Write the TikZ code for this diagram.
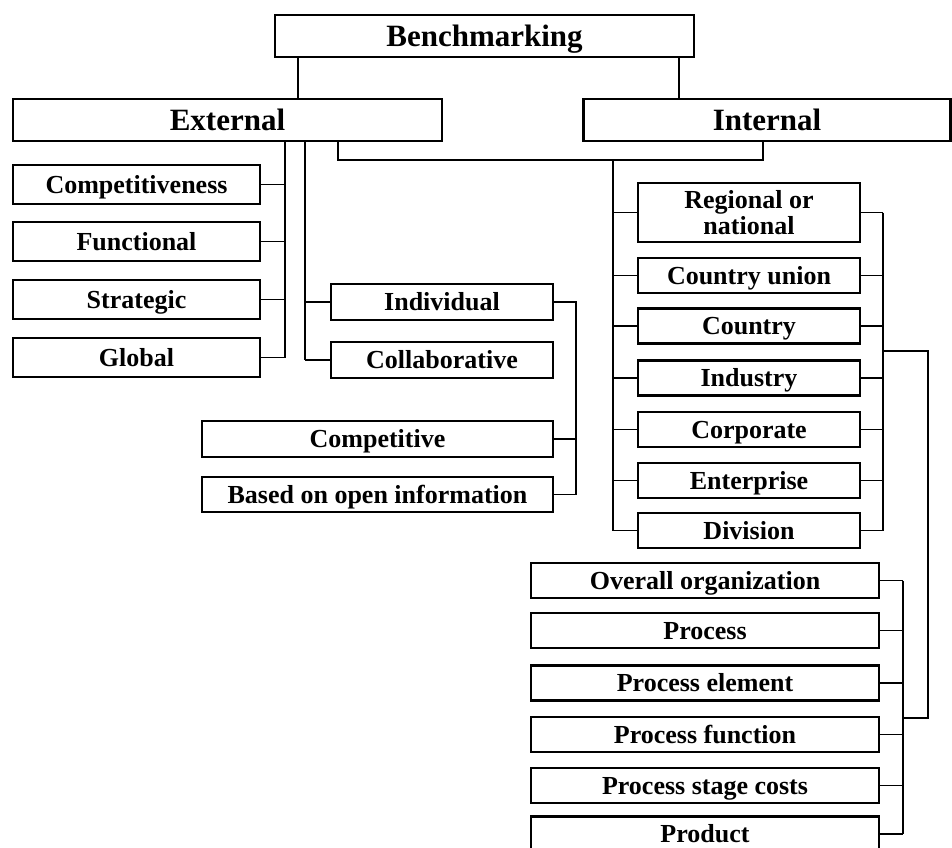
\documentclass[tikz,border=0pt]{standalone}
\usepackage{fontspec}
\setmainfont{Liberation Serif}
\tikzset{
  plainbox/.style={draw, line width=2.2pt, inner sep=0pt, align=center, font=\bfseries\fontsize{26}{26}\selectfont},
  box/.style={plainbox, text height=20pt, text depth=3pt},
  headbox/.style={plainbox, minimum height=42pt, text height=23pt, text depth=3pt, font=\bfseries\fontsize{31}{31}\selectfont},
  link/.style={line width=1.6pt},
}
\begin{document}
\begin{tikzpicture}[x=1pt,y=-1pt]
  \useasboundingbox (0,0) rectangle (952,847);

  % Top level
  \node[headbox, minimum width=419pt] (bench) at (484.5,36) {Benchmarking};
  \node[headbox, minimum width=429pt] (ext) at (227.5,120) {External};
  \node[headbox, minimum width=367pt] (int) at (767,120) {Internal};

  % External branch
  \node[box, minimum width=247pt, minimum height=39pt] (comp) at (136.5,184.5) {Competitiveness};
  \node[box, minimum width=247pt, minimum height=39pt] (func) at (136.5,241.5) {Functional};
  \node[box, minimum width=247pt, minimum height=39pt] (strat) at (136.5,299.5) {Strategic};
  \node[box, minimum width=247pt, minimum height=39pt] (glob) at (136.5,357.5) {Global};
  \node[box, minimum width=222pt, minimum height=36pt] (indiv) at (442,302) {Individual};
  \node[box, minimum width=222pt, minimum height=36pt] (collab) at (442,360) {Collaborative};
  \node[box, minimum width=351pt, minimum height=36pt] (compet) at (377.5,439) {Competitive};
  \node[box, minimum width=351pt, minimum height=35pt] (open) at (377.5,494.5) {Based on open information};

  % Internal branch
  \node[plainbox, minimum width=222pt, minimum height=59pt] (region) at (749,212.5) {Regional or\\national};
  \node[box, minimum width=222pt, minimum height=35pt] (union) at (749,275.5) {Country union};
  \node[box, minimum width=222pt, minimum height=35pt] (country) at (749,326) {Country};
  \node[box, minimum width=222pt, minimum height=35pt] (industry) at (749,378) {Industry};
  \node[box, minimum width=222pt, minimum height=35pt] (corp) at (749,429.5) {Corporate};
  \node[box, minimum width=222pt, minimum height=35pt] (enterp) at (749,480.5) {Enterprise};
  \node[box, minimum width=222pt, minimum height=35pt] (division) at (749,530.5) {Division};

  % Process level
  \node[box, minimum width=348pt, minimum height=35pt] (overall) at (705,580.5) {Overall organization};
  \node[box, minimum width=348pt, minimum height=35pt] (process) at (705,630.5) {Process};
  \node[box, minimum width=348pt, minimum height=35pt] (element) at (705,683) {Process element};
  \node[box, minimum width=348pt, minimum height=35pt] (pfunc) at (705,734.5) {Process function};
  \node[box, minimum width=348pt, minimum height=35pt] (stage) at (705,785.5) {Process stage costs};
  \node[box, minimum width=348pt, minimum height=35pt] (product) at (705,834) {Product};

  % Bus lines
  \coordinate (ba) at (298,0);
  \coordinate (bb) at (679,0);
  \coordinate (lbus) at (285,0);
  \coordinate (mbus) at (305,0);
  \coordinate (cbus) at (576,0);
  \coordinate (ej) at (338,160);
  \coordinate (ij) at (763,160);
  \coordinate (ibusl) at (613,160);
  \coordinate (ibusr) at (883,0);
  \coordinate (k1) at (883,351);
  \coordinate (k2) at (928,718);
  \coordinate (pbus) at (903,0);

  % Benchmarking to External / Internal
  \draw[link] (bench.south -| ba) -- (ext.north -| ba);
  \draw[link] (bench.south -| bb) -- (int.north -| bb);

  % External to its kinds
  \draw[link] (ext.south -| lbus) -- (glob.east -| lbus);
  \foreach \n in {comp,func,strat,glob} {
    \draw[link] (\n.east) -- (\n.east -| lbus);
  }
  \draw[link] (ext.south -| mbus) -- (collab.west -| mbus);
  \foreach \n in {indiv,collab} {
    \draw[link] (\n.west -| mbus) -- (\n.west);
  }
  \draw[link] (indiv.east) -| (open.east -| cbus) -- (open.east);
  \draw[link] (compet.east) -- (compet.east -| cbus);

  % External to Internal, and the internal kinds
  \draw[link] (ext.south -| ej) -- (ej) -- (ij) -- (int.south -| ij);
  \draw[link] (ibusl) -- (division.west -| ibusl);
  \draw[link] (region.east -| ibusr) -- (division.east -| ibusr);
  \foreach \n in {region,union,country,industry,corp,enterp,division} {
    \draw[link] (\n.west -| ibusl) -- (\n.west); % left stub
    \draw[link] (\n.east) -- (\n.east -| ibusr); % right stub
  }

  % Internal kinds to process level
  \draw[link] (k1) -| (k2) -- (k2 -| pbus);
  \draw[link] (overall.east -| pbus) -- (product.east -| pbus);
  \foreach \n in {overall,process,element,pfunc,stage,product} {
    \draw[link] (\n.east) -- (\n.east -| pbus);
  }
\end{tikzpicture}
\end{document}
